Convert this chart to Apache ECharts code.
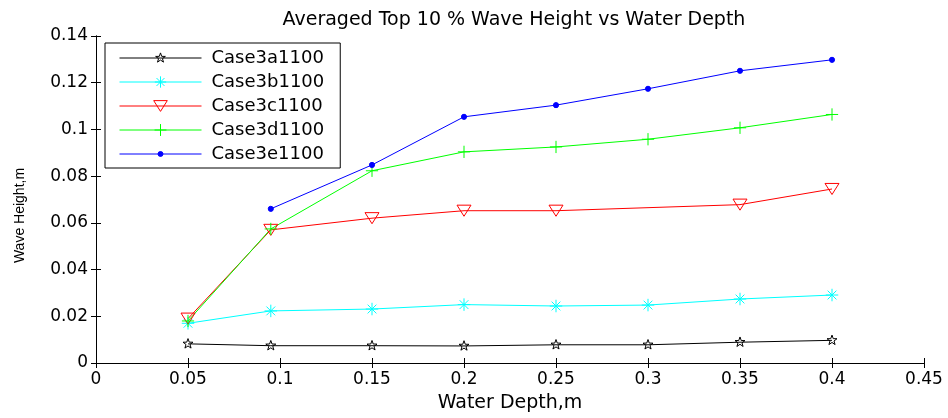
<!DOCTYPE html>
<html><head><meta charset="utf-8">
<script src="https://cdn.jsdelivr.net/npm/echarts@6/dist/echarts.min.js"></script>
<style>html,body{margin:0;padding:0;background:#fff}#c{width:948px;height:418px}</style>
</head><body><div id="c"></div>
<script>
const titleText = 'Averaged Top 10 % Wave Height vs Water Depth';
const xName = 'Water Depth,m';
const yName = 'Wave Height,m';
const seriesNames = ['Case3a1100','Case3b1100','Case3c1100','Case3d1100','Case3e1100'];
const depthA = [0.05, 0.095, 0.15, 0.2, 0.25, 0.3, 0.35, 0.4];
const case3a = [0.0082, 0.0074, 0.0074, 0.0073, 0.0078, 0.0078, 0.0089, 0.0097];
const depthB = [0.05, 0.095, 0.15, 0.2, 0.25, 0.3, 0.35, 0.4];
const case3b = [0.0170, 0.0223, 0.0231, 0.0250, 0.0244, 0.0248, 0.0274, 0.0291];
const depthC = [0.05, 0.095, 0.15, 0.2, 0.25, 0.35, 0.4];
const case3c = [0.0190, 0.0570, 0.0620, 0.0652, 0.0652, 0.0678, 0.0745];
const depthD = [0.05, 0.095, 0.15, 0.2, 0.25, 0.3, 0.35, 0.4];
const case3d = [0.0180, 0.0574, 0.0823, 0.0904, 0.0925, 0.0958, 0.1007, 0.1064];
const depthE = [0.095, 0.15, 0.2, 0.25, 0.3, 0.35, 0.4];
const case3e = [0.0660, 0.0848, 0.1054, 0.1104, 0.1174, 0.1251, 0.1298];

const pair = (xs, ys) => xs.map((x, i) => [x, ys[i]]);
// all marker paths share a 24x24 frame (anchored by the two moveTo points)
const FRAME = 'M-12,-12 M12,12 ';
const star = 'path://' + FRAME + 'M0,-9 L2.12,-2.92 L8.56,-2.78 L3.42,1.11 L5.29,7.28 L0,3.6 L-5.29,7.28 L-3.42,1.11 L-8.56,-2.78 L-2.12,-2.92 Z';
const asterisk = 'path://' + FRAME + 'M0,-10 L0,10 M-10,0 L10,0 M-7,-7 L7,7 M-7,7 L7,-7';
const downTri = 'path://' + FRAME + 'M-12,-9.5 L12,-9.5 L0,9.5 Z';
const plus = 'path://' + FRAME + 'M0,-10.5 L0,10.5 M-10.5,0 L10.5,0';
const dot = 'path://' + FRAME + 'M4.4,0 A4.4,4.4 0 1,1 -4.4,0 A4.4,4.4 0 1,1 4.4,0 Z';
const colors = ['#000000', '#00ffff', '#ff0000', '#00ff00', '#0000ff'];
const fills = ['rgba(255,255,255,0)', '#00ffff', 'rgba(255,255,255,0)', '#00ff00', '#0000ff'];
const fmt = v => String(+(+v).toFixed(2));
const tickFont = {fontFamily: 'DejaVu Sans', fontSize: 17, color: '#000'};

function mk(i, data, symbol, size) {
  const color = colors[i];
  return {
    name: seriesNames[i], type: 'line', data, symbol, symbolSize: size,
    showAllSymbol: true, animation: false, symbolKeepAspect: true,
    lineStyle: {color, width: 1},
    itemStyle: {color: fills[i], borderColor: color, borderWidth: 1},
    color
  };
}

const chart = echarts.init(document.getElementById('c'), null, {renderer: 'canvas'});
chart.setOption({
  animation: false,
  backgroundColor: '#fff',
  title: {text: titleText, left: 509, top: 6, textAlign: 'center',
    textStyle: {fontFamily: 'DejaVu Sans', fontSize: 19, fontWeight: 'normal', color: '#000'}},
  grid: {left: 96, right: 24, top: 36, bottom: 53, show: false},
  legend: {
    orient: 'vertical', left: 105, top: 43, itemWidth: 82, itemHeight: 17, itemGap: 6,
    padding: [6, 16, 5, 14], borderColor: '#000', borderWidth: 1, backgroundColor: '#fff',
    textStyle: {fontFamily: 'DejaVu Sans', fontSize: 18, lineHeight: 17, color: '#000', padding: [0, 0, 0, 5]},
    data: seriesNames.map((n, i) => ({
      name: n,
      itemStyle: {color: fills[i], borderColor: colors[i], borderWidth: 1},
      lineStyle: {color: colors[i], width: 1}
    }))
  },
  xAxis: [
    {type: 'value', min: 0, max: 0.45, interval: 0.05, position: 'bottom',
     name: xName, nameLocation: 'middle', nameGap: 31,
     nameTextStyle: {fontFamily: 'DejaVu Sans', fontSize: 19, color: '#000'},
     axisLine: {lineStyle: {color: '#000'}}, axisTick: {inside: true, length: 5, lineStyle: {color: '#000'}},
     axisLabel: Object.assign({formatter: fmt, margin: 8}, tickFont), splitLine: {show: false}},
    {type: 'value', min: 0, max: 0.45, interval: 0.05, position: 'top',
     axisLine: {lineStyle: {color: '#000'}}, axisTick: {inside: true, length: 5, lineStyle: {color: '#000'}},
     axisLabel: {show: false}, splitLine: {show: false}}
  ],
  yAxis: [
    {type: 'value', min: 0, max: 0.14, interval: 0.02, position: 'left',
     name: yName, nameLocation: 'middle', nameGap: 69, nameRotate: 90,
     nameTextStyle: {fontFamily: 'Liberation Sans', fontSize: 14, color: '#000', padding: [0, 32, 0, 0]},
     axisLine: {show: true, lineStyle: {color: '#000'}}, axisTick: {show: true, inside: true, length: 5, lineStyle: {color: '#000'}},
     axisLabel: Object.assign({formatter: fmt, margin: 8}, tickFont), splitLine: {show: false}},
    {type: 'value', min: 0, max: 0.14, interval: 0.02, position: 'right',
     axisLine: {show: true, lineStyle: {color: '#000'}}, axisTick: {show: true, inside: true, length: 5, lineStyle: {color: '#000'}},
     axisLabel: {show: false}, splitLine: {show: false}}
  ],
  series: [
    mk(0, pair(depthA, case3a), star, 14),
    mk(1, pair(depthB, case3b), asterisk, 15),
    mk(2, pair(depthC, case3c), downTri, 14),
    mk(3, pair(depthD, case3d), plus, 14),
    mk(4, pair(depthE, case3e), dot, 14)
  ]
});
</script></body></html>
